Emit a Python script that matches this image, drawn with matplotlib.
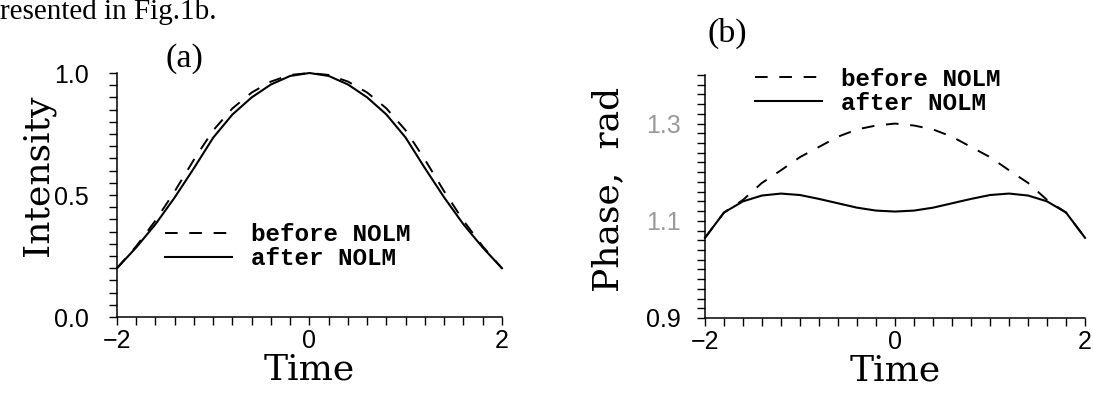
import numpy as np
import matplotlib.pyplot as plt
from matplotlib.ticker import MultipleLocator

# sample times (same grid for all four curves)
time = [-2.0, -1.8, -1.6, -1.4, -1.2, -1.0, -0.8, -0.6, -0.4, -0.2, 0.0,
        0.2, 0.4, 0.6, 0.8, 1.0, 1.2, 1.4, 1.6, 1.8, 2.0]

# (a) intensity
int_before = [0.20, 0.29, 0.395, 0.515, 0.645, 0.765, 0.855, 0.92, 0.965, 0.992, 1.0,
              0.992, 0.965, 0.92, 0.855, 0.765, 0.645, 0.515, 0.395, 0.29, 0.20]
int_after = [0.20, 0.285, 0.38, 0.49, 0.61, 0.735, 0.83, 0.90, 0.953, 0.988, 1.0,
             0.988, 0.953, 0.90, 0.83, 0.735, 0.61, 0.49, 0.38, 0.285, 0.20]

# (b) phase, rad
ph_before = [1.065, 1.117, 1.143, 1.178, 1.204, 1.231, 1.252, 1.273, 1.288, 1.296, 1.300,
             1.296, 1.288, 1.273, 1.252, 1.231, 1.204, 1.178, 1.143, 1.117, 1.065]
ph_after = [1.065, 1.117, 1.140, 1.152, 1.156, 1.153, 1.145, 1.136, 1.127, 1.121, 1.119,
            1.121, 1.127, 1.136, 1.145, 1.153, 1.156, 1.152, 1.140, 1.117, 1.065]

x_ticks = [-2, 0, 2]
x_ticklabels = ['\u22122', '0', '2']
int_ticks = [0.0, 0.5, 1.0]
int_ticklabels = ['0.0', '0.5', '1.0']
ph_ticks = [0.9, 1.1, 1.3]
ph_ticklabels = ['0.9', '1.1', '1.3']
labels = ['before NOLM', 'after NOLM']

serif = ['DejaVu Serif']
tickfont = ['Liberation Sans']
legfont = {'family': ['Liberation Mono', 'DejaVu Sans Mono'], 'size': 17.5, 'weight': 'bold'}
dash = (0, (6.5, 6))

fig = plt.figure(figsize=(10.93, 3.94), dpi=100)
ax1 = fig.add_axes([0.1070, 0.1954, 0.3522, 0.6193])
ax2 = fig.add_axes([0.6450, 0.1929, 0.3477, 0.6168])


def style(ax, yticks, yticklabels, yminor, ypad):
    for s in ['top', 'right']:
        ax.spines[s].set_visible(False)
    for s in ['left', 'bottom']:
        ax.spines[s].set_linewidth(1.1)
    ax.set_xlim(-2, 2)
    ax.set_xticks(x_ticks)
    ax.set_xticklabels(x_ticklabels, family=tickfont, fontsize=18)
    ax.xaxis.set_minor_locator(MultipleLocator(0.2))
    ax.set_yticks(yticks)
    ax.set_yticklabels(yticklabels, family=tickfont, fontsize=18)
    ax.yaxis.set_minor_locator(MultipleLocator(yminor))
    ax.tick_params(axis='both', which='both', direction='out', length=5.5, width=1.0)
    ax.tick_params(axis='x', which='major', pad=3)
    ax.tick_params(axis='y', which='major', pad=ypad)
    ax.set_xlabel('Time', family=serif, fontsize=26, labelpad=0)


# (a)
ax1.plot(time, int_before, color='k', lw=1.4, ls=dash, clip_on=False, label=labels[0])
ax1.plot(time, int_after, color='k', lw=1.5, clip_on=False, label=labels[1])
ax1.set_ylim(0, 1.0)
style(ax1, int_ticks, int_ticklabels, 0.05, 15)
ax1.set_ylabel('Intensity', family=serif, fontsize=26, va='center')
ax1.yaxis.set_label_coords(-0.205, 0.582)
ax1.legend(loc='upper left', bbox_to_anchor=(0.125, 0.385), frameon=False, prop=legfont,
           handlelength=2.75, handletextpad=0.8, labelspacing=0.05,
           borderpad=0, borderaxespad=0)

# (b)
ax2.plot(time, ph_before, color='k', lw=1.4, ls=dash, clip_on=False, label=labels[0])
ax2.plot(time, ph_after, color='k', lw=1.5, clip_on=False, label=labels[1])
ax2.set_ylim(0.9, 1.4)
style(ax2, ph_ticks, ph_ticklabels, 0.02, 12)
for lab in ax2.get_yticklabels()[1:]:
    lab.set_color('#9a9a9a')
ax2.set_ylabel('Phase,  rad', family=serif, fontsize=26, va='center')
ax2.yaxis.set_label_coords(-0.255, 0.527)
ax2.legend(loc='upper left', bbox_to_anchor=(0.132, 1.03), frameon=False, prop=legfont,
           handlelength=2.75, handletextpad=0.8, labelspacing=0.05,
           borderpad=0, borderaxespad=0)

fig.text(0.1683, 0.850, '(a)', ha='center', va='center', family='Liberation Serif', fontsize=24.5)
fig.text(0.665, 0.916, '(b)', ha='center', va='center', family='Liberation Serif', fontsize=24.5)
fig.text(0.0, 0.951, 'resented in Fig.1b.', ha='left', va='baseline',
         family='Liberation Serif', fontsize=21)

fig.savefig('out.png', dpi=100)
